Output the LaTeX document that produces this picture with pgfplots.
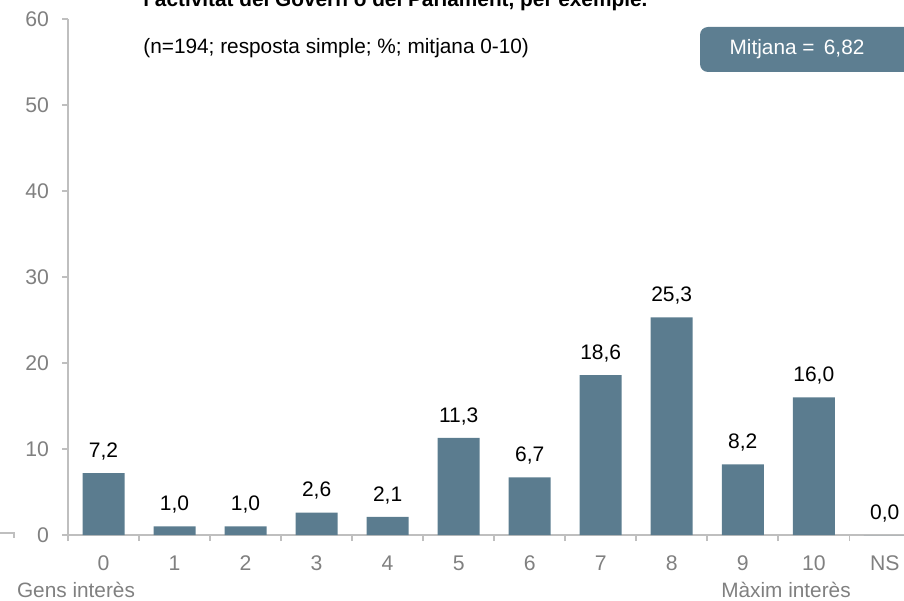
\documentclass[border=0pt]{standalone}
\usepackage{pgfplots}
\pgfplotsset{compat=1.18}
\usepackage{fontspec}
\setmainfont{Liberation Sans}
\definecolor{barc}{RGB}{91,124,143}
\definecolor{boxc}{RGB}{93,126,145}
\definecolor{axc}{RGB}{191,191,191}
\definecolor{tkc}{RGB}{128,128,128}
\begin{document}
\begin{tikzpicture}
\useasboundingbox (0,0) rectangle (452pt,300pt);
\begin{axis}[
  at={(34pt,32.5pt)}, anchor=south west,
  scale only axis, width=418pt, height=258pt,
  xmin=-0.5, xmax=11.27, ymin=0, ymax=60,
  axis lines*=left,
  axis line style={axc, line width=0.8pt},
  tick style={axc, line width=0.8pt},
  tick align=outside,
  xtick={0,...,11},
  xticklabels={0,1,2,3,4,5,6,7,8,9,10,NS},
  major x tick style={draw=none},
  minor xtick={-0.5,0.5,...,10.5},
  minor tick length=3pt,
  major tick length=3pt,
  ytick={0,10,...,60},
  ticklabel style={font=\fontsize{10.6}{12}\selectfont, text=tkc},
  xticklabel style={yshift=-4pt},
  yticklabel style={xshift=-3pt},
  /pgf/number format/assume math mode=true,
  ybar, bar width=21pt,
  nodes near coords={\pgfmathprintnumber[fixed,fixed zerofill,precision=1,use comma,assume math mode=true]{\pgfplotspointmeta}},
  every node near coord/.append style={font=\fontsize{10.5}{12}\selectfont, text=black, yshift=3pt},
  clip=false,
]
\addplot[fill=barc, draw=none] coordinates {
 (0,7.2) (1,1.0) (2,1.0) (3,2.6) (4,2.1) (5,11.3) (6,6.7) (7,18.6) (8,25.3) (9,8.2) (10,16.0) (11,0.0)
};
\end{axis}
\draw[axc, line width=0.8pt] (0,33.5pt) -- (7pt,33.5pt) -- (7pt,31pt);
\node[anchor=base west, font=\bfseries\fontsize{10.4}{12}\selectfont, inner sep=0pt] at (71.5pt,296.5pt) {l'activitat del Govern o del Parlament, per exemple.};
\node[anchor=west, font=\fontsize{10.4}{12}\selectfont, inner sep=0pt] at (71.5pt,276pt) {(n=194; resposta simple; \%; mitjana 0-10)};
\fill[boxc, rounded corners=4pt] (350pt,264pt) rectangle (470pt,286.5pt);
\node[font=\fontsize{10.4}{12}\selectfont, text=white] at (398.5pt,275.25pt) {Mitjana =\hspace{0.45em}6,82};
\node[anchor=base, font=\fontsize{10.4}{12}\selectfont, text=tkc, inner sep=0pt] at (38pt,1.5pt) {Gens interès};
\node[anchor=base, font=\fontsize{10.4}{12}\selectfont, text=tkc, inner sep=0pt] at (393pt,1.5pt) {Màxim interès};
\end{tikzpicture}
\end{document}
